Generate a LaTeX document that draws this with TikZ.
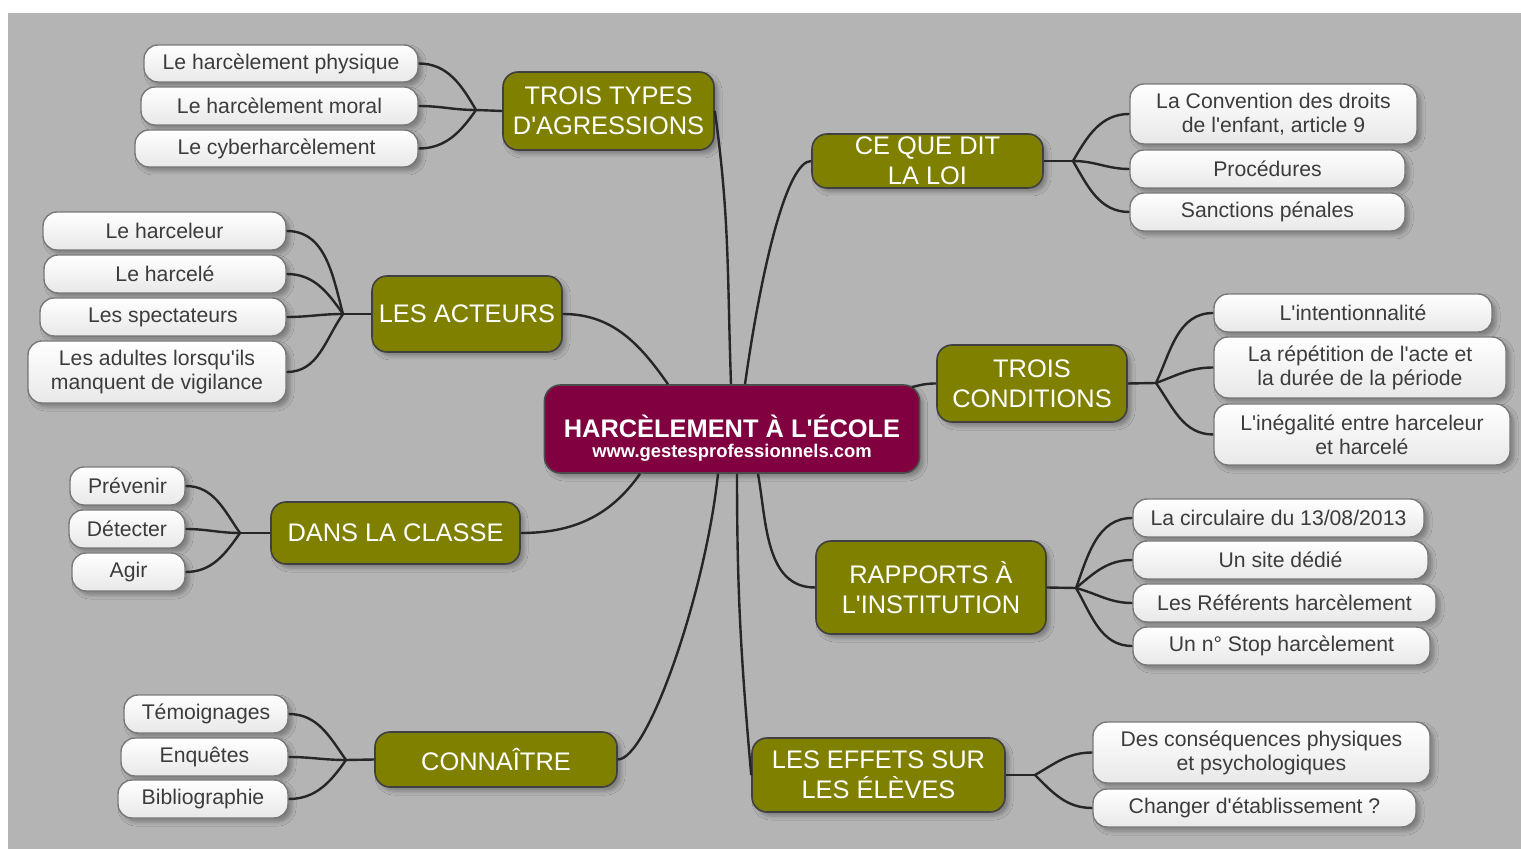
\documentclass[tikz,border=0pt]{standalone}
\usepackage{fontspec}
\setmainfont{Liberation Sans}[Ligatures=TeXOff]
\usetikzlibrary{shadows.blur}

\definecolor{bgcol}{RGB}{180,180,180}
\definecolor{hubcol}{RGB}{128,0,64}
\definecolor{olivecol}{RGB}{128,128,0}
\definecolor{idealine}{RGB}{120,120,120}
\definecolor{ideatext}{RGB}{60,60,60}

\tikzset{
  bx/.style 2 args={minimum width=#1*0.5pt, minimum height=#2*0.5pt},
  soft/.style={blur shadow={shadow xshift=2pt, shadow yshift=-2pt, shadow blur radius=2pt, shadow opacity=30}},
  hub/.style={draw=black!70, line width=0.8pt, fill=hubcol, rounded corners=8pt, soft},
  hubtext/.style={text=white, align=center, inner sep=0pt, font=\bfseries\fontsize{12.7}{10}\selectfont},
  topic/.style={draw=black!75, line width=0.8pt, fill=olivecol, text=white, rounded corners=7.5pt, align=center, inner sep=1pt, font=\fontsize{12.7}{15}\selectfont, soft},
  idea/.style={draw=idealine, line width=0.7pt, top color=white, bottom color=black!9, text=ideatext, rounded corners=7pt, align=center, inner sep=1pt, font=\fontsize{10.6}{12}\selectfont, soft},
  link/.style={line width=1.2pt, draw=black!85}
}

\begin{document}
\begin{tikzpicture}[x=0.5pt,y=-0.5pt]
\useasboundingbox (0,0) rectangle (1521,849);
\fill[bgcol] (8,13) rectangle (1521,849);

% centre
\node[hub, bx={375}{88}] (root) at (732,429) {};
\node[hubtext] (title) at (732,438) {HARCÈLEMENT À L'ÉCOLE\\{\fontsize{9.2}{10}\selectfont www.gestesprofessionnels.com}};

% topics
\node[topic, bx={211}{78}] (types) at (608.5,111) {TROIS TYPES\\D'AGRESSIONS};
\node[topic, bx={231}{54}] (loi) at (927.5,161) {CE QUE DIT\\LA LOI};
\node[topic, bx={190}{76}] (acteurs) at (467,314) {LES ACTEURS};
\node[topic, bx={190}{77}] (cond) at (1032,383.5) {TROIS\\CONDITIONS};
\node[topic, bx={249}{62}] (classe) at (395.5,533) {DANS LA CLASSE};
\node[topic, bx={230}{93}] (inst) at (931,587.5) {RAPPORTS À\\L'INSTITUTION};
\node[topic, bx={242}{55}] (conn) at (496,759.5) {CONNAÎTRE};
\node[topic, bx={253}{74}] (effets) at (878.5,775) {LES EFFETS SUR\\LES ÉLÈVES};

% ideas
\node[idea, bx={274}{37}] (a1) at (281,63.5) {Le harcèlement physique};
\node[idea, bx={277}{38}] (a2) at (279.5,106) {Le harcèlement moral};
\node[idea, bx={283}{37}] (a3) at (276.5,148.5) {Le cyberharcèlement};

\node[idea, bx={287}{60}] (b1) at (1273.5,114) {La Convention des droits\\de l'enfant, article 9};
\node[idea, bx={275}{38}] (b2) at (1267.5,169) {Procédures};
\node[idea, bx={275}{38}] (b3) at (1267.5,212) {Sanctions pénales};

\node[idea, bx={243}{38}] (c1) at (164.5,231) {Le harceleur};
\node[idea, bx={242}{38}] (c2) at (165,274) {Le harcelé};
\node[idea, bx={246}{38}] (c3) at (163,317) {Les spectateurs};
\node[idea, bx={258}{62}] (c4) at (157,372) {Les adultes lorsqu'ils\\manquent de vigilance};

\node[idea, bx={278}{38}] (d1) at (1353,313) {L'intentionnalité};
\node[idea, bx={292}{61}] (d2) at (1360,367.5) {La répétition de l'acte et\\la durée de la période};
\node[idea, bx={296}{61}] (d3) at (1362,434.5) {L'inégalité entre harceleur\\et harcelé};

\node[idea, bx={115}{38}] (e1) at (127.5,486) {Prévenir};
\node[idea, bx={116}{38}] (e2) at (127,529) {Détecter};
\node[idea, bx={113}{38}] (e3) at (128.5,572) {Agir};

\node[idea, bx={291}{38}] (f1) at (1278.5,518) {La circulaire du 13/08/2013};
\node[idea, bx={295}{38}] (f2) at (1280.5,560) {Un site dédié};
\node[idea, bx={303}{38}] (f3) at (1284.5,603) {Les Référents harcèlement};
\node[idea, bx={297}{38}] (f4) at (1281.5,646) {Un n° Stop harcèlement};

\node[idea, bx={164}{38}] (g1) at (206,714) {Témoignages};
\node[idea, bx={167}{38}] (g2) at (204.5,757) {Enquêtes};
\node[idea, bx={170}{38}] (g3) at (203,799) {Bibliographie};

\node[idea, bx={337}{61}] (h1) at (1261.5,752.5) {Des conséquences physiques\\et psychologiques};
\node[idea, bx={323}{38}] (h2) at (1254.5,808) {Changer d'établissement ?};

% forks
\coordinate (fa) at (476,110);
\coordinate (fb) at (1073,161);
\coordinate (fc) at (343,314);
\coordinate (fd) at (1156,383);
\coordinate (fe) at (240,533);
\coordinate (ff) at (1076,588);
\coordinate (fg) at (346,760);
\coordinate (fh) at (1035,775);

% centre to topics
\draw[link] ([xshift=-0.5pt]root.north) to[out=92,in=-82] (types.east);
\draw[link] ([xshift=6.5pt]root.north) to[out=82,in=180,out distance=60pt,in distance=12pt] (loi.west);
\draw[link] ([xshift=-32pt]root.north) to[out=125,in=0] (acteurs.east);
\draw[link] ([xshift=-4.25pt,yshift=-1.5pt]root.north east) to[out=15,in=180] (cond.west);
\draw[link] ([xshift=-46pt]root.south) to[out=-125,in=0] (classe.east);
\draw[link] ([xshift=13pt]root.south) to[out=-80,in=180] (inst.west);
\draw[link] ([xshift=-7pt]root.south) to[out=-96,in=0,out distance=60pt,in distance=15pt] (conn.east);
\draw[link] ([xshift=2.5pt]root.south) to[out=-90,in=95] (effets.west);

% topics to ideas
\draw[link] (fa) -- (types.west);
\foreach \l/\a in {a1/120,a2/180,a3/235} \draw[link] (\l.east) to[out=0,in=\a] (fa);
\draw[link] (loi.east) -- (fb);
\foreach \l/\a in {b1/60,b2/0,b3/-60} \draw[link] (\l.west) to[out=180,in=\a] (fb);
\draw[link] (fc) -- (acteurs.west);
\foreach \l/\a in {c1/105,c2/125,c3/180,c4/235} \draw[link] (\l.east) to[out=0,in=\a] (fc);
\draw[link] (cond.east) -- (fd);
\foreach \l/\a in {d1/65,d2/20,d3/-55} \draw[link] (\l.west) to[out=180,in=\a] (fd);
\draw[link] (fe) -- (classe.west);
\foreach \l/\a in {e1/125,e2/180,e3/235} \draw[link] (\l.east) to[out=0,in=\a] (fe);
\draw[link] (inst.east) -- (ff);
\foreach \l/\a in {f1/70,f2/40,f3/-15,f4/-60} \draw[link] (\l.west) to[out=180,in=\a] (ff);
\draw[link] (fg) -- (conn.west);
\foreach \l/\a in {g1/125,g2/180,g3/235} \draw[link] (\l.east) to[out=0,in=\a] (fg);
\draw[link] (effets.east) -- (fh);
\foreach \l/\a in {h1/30,h2/-45} \draw[link] (\l.west) to[out=180,in=\a] (fh);
\end{tikzpicture}
\end{document}
